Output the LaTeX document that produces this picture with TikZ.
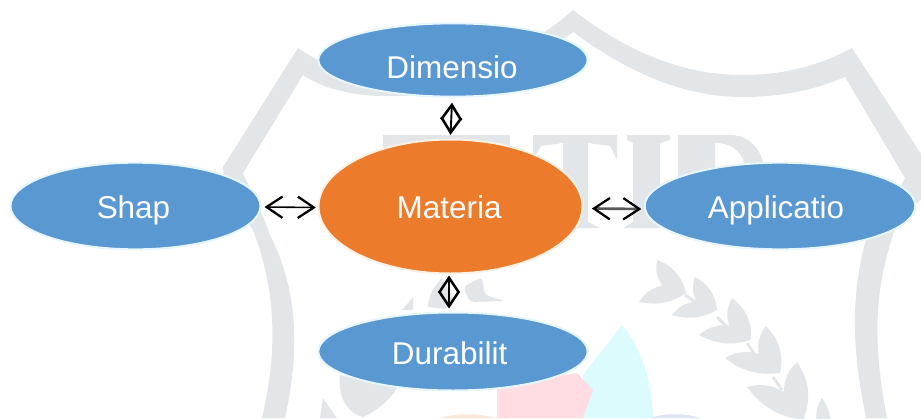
\documentclass[tikz,border=0pt]{standalone}
\usepackage{fontspec}
\setmainfont{Liberation Sans}
\usetikzlibrary{arrows.meta,shapes.geometric,calc}
\definecolor{wm}{HTML}{E2E6E8}
\definecolor{bluefill}{HTML}{5A98D2}
\definecolor{orangefill}{HTML}{EC7B2C}
\definecolor{bluehalo}{HTML}{E6F6FC}
\definecolor{orangehalo}{HTML}{FEF0E2}
\definecolor{pinkwm}{HTML}{FFDDE2}
\definecolor{cyanwm}{HTML}{DCFBFC}
\definecolor{peachwm}{HTML}{FDE8DB}
\definecolor{lavwm}{HTML}{DFE2F3}
\tikzset{
  wmshape/.style={fill=wm,draw=none},
  topic/.style={ellipse,fill=bluefill,draw=bluehalo,line width=1.5pt,inner sep=0pt,outer sep=0pt,
    text=white,font=\fontsize{23.6}{28}\selectfont,text depth=0pt,text height=18pt},
  hub/.style={topic,fill=orangefill,draw=orangehalo},
  link/.style={draw=black,line width=1.2pt,
    {Straight Barb[length=12pt,width=16pt,line width=1.7pt,color=black]}-{Straight Barb[length=12pt,width=16pt,line width=1.7pt,color=black]}},
  linkv/.style={draw=black,line width=1.4pt,
    {Straight Barb[length=11.2pt,width=15pt,line width=1.9pt,color=black]}-{Straight Barb[length=11.2pt,width=15pt,line width=1.9pt,color=black]}},
}
\newcommand{\laurel}[6]{%
  \coordinate (la) at (#1,#2);\coordinate (lb) at (#3,#4);\coordinate (lc) at (#5,#6);
  \coordinate (ln) at ($(lb)!0.62!($(la)!0.5!(lc)$)$);
  \fill[wm] (la) to[bend left=28] (lb) to[bend left=22] (lc) to[bend left=22] (ln) to[bend left=22] (la) -- cycle;
}
\begin{document}
\begin{tikzpicture}[x=0.75pt,y=-0.75pt]
\useasboundingbox (0,0) rectangle (921,418);
\begin{scope}
\clip (0,0) rectangle (921,418);
% shield outline
\fill[wm] (223,167) -- (298,48) .. controls (340,78) and (400,85) .. (453,70)
  .. controls (500,58) and (540,40) .. (573,10)
  .. controls (625,50) and (680,75) .. (743,75)
  .. controls (785,75) and (820,65) .. (852,48) -- (925,160) -- (930,190)
  .. controls (905,215) and (893,230) .. (893,235)
  .. controls (875,290) and (872,340) .. (887,418) -- (866,418)
  .. controls (850,340) and (852,290) .. (867,235)
  .. controls (880,210) and (900,190) .. (905,178) -- (845,77)
  .. controls (810,92) and (775,97) .. (743,97)
  .. controls (680,97) and (625,70) .. (573,32)
  .. controls (530,65) and (490,85) .. (453,90)
  .. controls (400,100) and (340,100) .. (303,75) -- (243,173)
  .. controls (250,190) and (262,210) .. (270,235)
  .. controls (298,290) and (300,350) .. (285,418) -- (262,418)
  .. controls (278,350) and (276,290) .. (253,230)
  .. controls (240,210) and (225,190) .. (223,167) -- cycle;
% watermark letters
\fill[wm] (383,135) -- (510,135) -- (510,175) -- (383,175) -- cycle;
\fill[wm] (533,135) -- (617,135) -- (617,160) -- (610,146) -- (588,143) -- (588,222) -- (600,228)
  -- (551,228) -- (563,222) -- (563,143) -- (541,146) -- (533,160) -- cycle;
\fill[wm] (627,135) -- (670,135) -- (670,140) -- (660,143) -- (660,222) -- (670,228)
  -- (623,228) -- (633,222) -- (633,143) -- (627,140) -- cycle;
\fill[wm] (678,135) -- (730,135) .. controls (750,135) and (762,150) .. (765,170) -- (745,170)
  .. controls (745,155) and (735,143) .. (715,143) -- (715,228) -- (678,228) -- cycle;
% laurel, right
\laurel{657}{260}{686}{293}{639}{302}
\laurel{695}{277}{717}{310}{672}{315}
\laurel{732}{298}{751}{340}{699}{335}
\laurel{766}{326}{780}{373}{725}{358}
\laurel{797}{362}{803}{420}{747}{387}
\laurel{822}{398}{827}{440}{800}{430}
\draw[wm,line width=2.2pt] (685,295) -- (697,303) (717,317) -- (728,328) (747,343) -- (757,358) (773,377) -- (782,390);
% laurel, left
\fill[wm,rounded corners=3pt] (482,277) -- (463,287) -- (470,302) -- (505,301) -- (485,295) -- cycle;
\fill[wm] (428,307) .. controls (428,295) and (435,285) .. (442,278) -- (455,300) -- (445,309) -- cycle;
\fill[wm] (413,297) -- (402,310) -- (413,310) -- cycle;
\fill[wm] (340,375) .. controls (338,395) and (345,412) .. (363,417) .. controls (378,410) and (390,400) .. (397,388) -- cycle;
\fill[wm] (323,398) -- (337,418) -- (320,418) -- cycle;
% colour patches of the emblem
\fill[cyanwm] (622,325) .. controls (640,345) and (652,380) .. (653,418) -- (583,418) -- (583,375) -- cycle;
\fill[pinkwm] (497,418) -- (497,385) -- (577,373) -- (593,390) -- (583,418) -- cycle;
\fill[peachwm] (440,418) .. controls (455,413) and (480,413) .. (495,418) -- cycle;
\fill[lavwm] (650,418) .. controls (665,413) and (685,413) .. (700,418) -- cycle;
\end{scope}
% nodes
\node[topic,minimum width=202pt,minimum height=55pt,text height=27pt] (dim) at (453,60) {Dimensio\kern 1.5pt};
\node[hub,minimum width=198pt,minimum height=100.5pt] (mat) at (450.5,206.5) {Materia\kern 2pt};
\node[topic,minimum width=187.5pt,minimum height=65pt] (shap) at (135.5,206) {Shap\kern 3pt};
\node[topic,minimum width=203pt,minimum height=65pt] (app) at (780,206) {Applicatio\kern 6pt};
\node[topic,minimum width=202pt,minimum height=58.5pt,text height=20pt] (dur) at (453,351.5) {Durabilit\kern 5pt};
% connectors
\draw[link] ([xshift=3pt,yshift=-0.75pt]shap.east) -- ([xshift=-2pt,yshift=-0.75pt]mat.west);
\draw[link,draw=black!65,line width=2pt] ([xshift=7pt,yshift=-1.5pt]mat.east) -- ([xshift=-2.5pt,yshift=-2.25pt]app.west);
\draw[linkv] ([yshift=-4.5pt,xshift=-0.75pt]dim.south) -- ([yshift=3.5pt]mat.north);
\draw[linkv] ([yshift=-1.5pt,xshift=-1.1pt]mat.south) -- ([yshift=3pt,xshift=-3pt]dur.north);
\end{tikzpicture}
\end{document}
